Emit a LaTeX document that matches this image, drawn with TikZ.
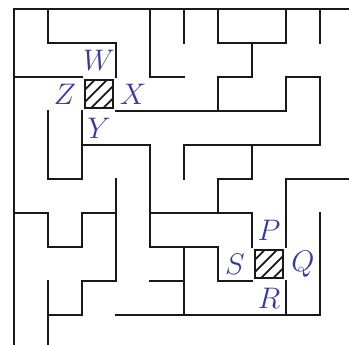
\documentclass[tikz,border=0pt]{standalone}
\usetikzlibrary{calc}
\usetikzlibrary{positioning}
\definecolor{labelblue}{RGB}{55,55,165}

\begin{document}
\begin{tikzpicture}[
wall/.style={draw=black!90, line width=1.7pt, line cap=rect, line join=miter},
hatchline/.style={draw=black!90, line width=1.4pt},
hatchbox/.style={rectangle, draw=black!90, line width=1.7pt, minimum size=8.2mm, inner sep=0pt,
  path picture={
    \path (path picture bounding box.south west) coordinate (sw)
          (path picture bounding box.north east) coordinate (ne);
    \foreach \d in {0.22,0.66} {
      \draw[hatchline] ($(sw)!\d!(sw|-ne)$) -- ($(sw|-ne)!{1-\d}!(ne)$);
      \draw[hatchline] ($(sw)!\d!(ne|-sw)$) -- ($(ne|-sw)!{1-\d}!(ne)$);
    }
  }},
cellname/.style={text=labelblue, font=\fontsize{24}{28}\selectfont, inner sep=0pt},
]

\clip (-0.412,0.265) rectangle (9.853,-9.882);

%Outer walls
\draw[wall] (0,-10) -- (0,0) -- (10,0);

%Inner walls
\draw[wall] (1,0) -- (1,-1) -- (3,-1) -- (3,-2);
\draw[wall] (0,-2) -- (2,-2);
\draw[wall] (4,0) -- (4,-2) -- (5,-2);
\draw[wall] (5,0) -- (5,-1);
\draw[wall] (6,0) -- (6,-1) -- (8,-1) -- (8,0);
\draw[wall] (9,0) -- (9,-1);
\draw[wall] (7,-1) -- (7,-2) -- (6,-2) -- (6,-3);
\draw[wall] (3,-3) -- (8,-3) -- (8,-2) -- (9,-2) -- (9,-4) -- (5,-4) -- (5,-5);
\draw[wall] (7,-4) -- (7,-5) -- (6,-5) -- (6,-6);
\draw[wall] (1,-3) -- (1,-5) -- (2,-5) -- (2,-3);
\draw[wall] (2,-4) -- (4,-4) -- (4,-7) -- (6,-7) -- (6,-8) -- (7,-8);
\draw[wall] (4,-6) -- (7,-6) -- (7,-7);
\draw[wall] (8,-7) -- (8,-5) -- (10,-5);
\draw[wall] (9,-6) -- (9,-9) -- (3,-9);
\draw[wall] (8,-8) -- (8,-9);
\draw[wall] (5,-7) -- (5,-9);
\draw[wall] (4,-8) -- (5,-8);
\draw[wall] (3,-5) -- (3,-8) -- (2,-8) -- (2,-9) -- (1,-9);
\draw[wall] (1,-8) -- (1,-10);
\draw[wall] (0,-6) -- (1,-6) -- (1,-7) -- (2,-7) -- (2,-6) -- (3,-6);

%Marked cells
\node[hatchbox] (upper_box) at (2.5,-2.5) {};
\node[hatchbox] (lower_box) at (7.5,-7.5) {};

%Labels
\node[cellname] (w_node) at (2.5,-1.5) {$W$};
\node[cellname] (x_node) at (3.5,-2.5) {$X$};
\node[cellname] (y_node) at (2.5,-3.5) {$Y$};
\node[cellname] (z_node) at (1.5,-2.5) {$Z$};

\node[cellname] (p_node) at (7.5,-6.5) {$P$};
\node[cellname] (q_node) at (8.5,-7.5) {$Q$};
\node[cellname] (r_node) at (7.5,-8.5) {$R$};
\node[cellname] (s_node) at (6.5,-7.5) {$S$};

\end{tikzpicture}
\end{document}
